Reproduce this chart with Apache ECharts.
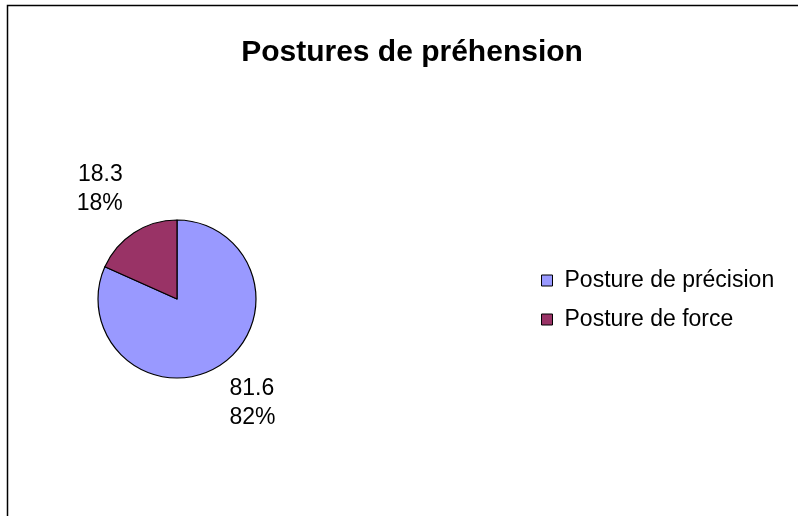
<!DOCTYPE html>
<html>
<head>
<meta charset="utf-8">
<script src="https://cdn.jsdelivr.net/npm/echarts@6/dist/echarts.min.js"></script>
<style>
  html, body { margin: 0; padding: 0; background: #fff; }
  #chart { width: 798px; height: 516px; }
</style>
</head>
<body>
<div id="chart"></div>
<script>
  var names = ['Posture de précision', 'Posture de force'];
  var values = [81.6, 18.3];
  var colors = ['#9999FF', '#993366'];
  // label offset along the radius / sideways for each slice
  var labelLen = [45, 52];
  var labelLen2 = [-15, -17];

  var chart = echarts.init(document.getElementById('chart'));

  var seriesData = names.map(function (n, i) {
    return {
      name: n,
      value: values[i],
      itemStyle: { color: colors[i] },
      labelLine: { show: false, length: labelLen[i], length2: labelLen2[i] }
    };
  });

  var option = {
    backgroundColor: '#fff',
    animation: false,
    title: {
      text: 'Postures de préhension',
      left: 407,
      top: 33,
      textAlign: 'center',
      textStyle: {
        fontFamily: 'Liberation Sans',
        fontSize: 30,
        fontWeight: 'bold',
        color: '#000'
      }
    },
    graphic: [{
      type: 'rect',
      shape: { x: 7.5, y: 5.5, width: 820, height: 540 },
      style: { fill: null, stroke: '#000', lineWidth: 1.5 },
      silent: true
    }],
    legend: {
      orient: 'vertical',
      left: 536,
      top: 264,
      itemWidth: 11,
      itemHeight: 11,
      itemGap: 16,
      icon: 'rect',
      itemStyle: { borderColor: '#000', borderWidth: 1 },
      textStyle: {
        fontFamily: 'Liberation Sans',
        fontSize: 23,
        color: '#000',
        padding: [0, 0, 0, 7]
      },
      data: names
    },
    series: [{
      type: 'pie',
      center: [177, 299],
      radius: 79,
      startAngle: 90,
      clockwise: true,
      avoidLabelOverlap: false,
      itemStyle: { borderColor: '#000', borderWidth: 1.2 },
      label: {
        show: true,
        position: 'outside',
        distanceToLabelLine: 0,
        fontFamily: 'Liberation Sans',
        fontSize: 23,
        lineHeight: 29,
        color: '#000',
        formatter: function (p) {
          return p.value + '\n' + Math.round(p.percent) + '%';
        }
      },
      emphasis: { disabled: true },
      data: seriesData
    }]
  };
  chart.setOption(option);
</script>
</body>
</html>
